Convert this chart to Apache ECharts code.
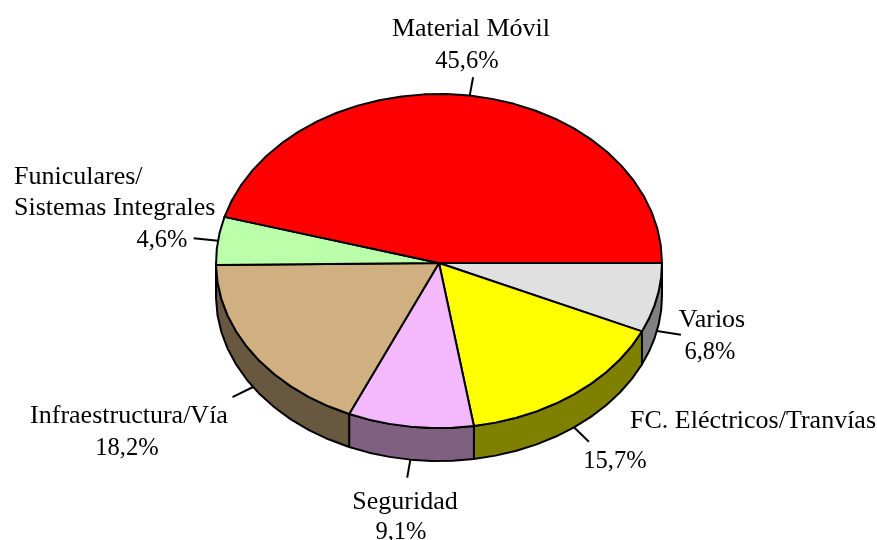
<!DOCTYPE html>
<html>
<head>
<meta charset="utf-8">
<style>html,body{margin:0;padding:0;background:#fff}#c{width:877px;height:540px}</style>
<script src="https://cdn.jsdelivr.net/npm/echarts@6/dist/echarts.min.js"></script>
</head>
<body>
<div id="c"></div>
<script>
// Data, clockwise from 3 o'clock
const categories = ['Varios', 'FC. Eléctricos/Tranvías', 'Seguridad', 'Infraestructura/Vía', 'Funiculares/\nSistemas Integrales', 'Material Móvil'];
const values = [6.8, 15.7, 9.1, 18.2, 4.6, 45.6];
const topColors = ['#E0E0E0', '#FFFF00', '#F4B8FC', '#D0B080', '#BBFFAA', '#FF0000'];
const sideColors = ['#808080', '#808000', '#806080', '#685840', '#5D8055', '#800000'];

// Layout of the tilted disc
const cx = 439, cy = 263, rx = 223, ryTop = 169, ryBottom = 165, depth = 33, step = 6, leader = 1.11;
// Text anchors: [name x, name centre y, value centre x, value centre y, name alignment]
const textPlaces = [
  [712, 320, 710, 353, 'center'],
  [753, 421, 615, 462, 'center'],
  [405, 502, 401, 533, 'center'],
  [129, 416, 127, 449, 'center'],
  [14, 192.5, 162, 241, 'left'],
  [471, 29, 467, 62, 'center']
];

const total = values.reduce((a, b) => a + b, 0);
const chart = echarts.init(document.getElementById('c'), null, {renderer: 'canvas'});
const toAngle = v => echarts.number.linearMap(v, [0, total], [0, 360]);
const spans = [];
values.reduce((acc, v) => { spans.push([toAngle(acc), toAngle(acc + v)]); return acc + v; }, 0);
const pt = (deg, k = 1, dz = 0) => {
  const r = deg * Math.PI / 180;
  const s = Math.sin(r);
  return [cx + rx * k * Math.cos(r), cy + (s > 0 ? ryBottom : ryTop) * k * s + dz];
};
const arc = (a, b, dz = 0) => {
  const out = [];
  const n = Math.max(1, Math.ceil((b - a) / step));
  for (let i = 0; i <= n; i++) out.push(pt(a + (b - a) * i / n, 1, dz));
  return out;
};
const seriesData = categories.map((name, i) => ({name, value: [values[i], i]}));
const lineStyle = {stroke: '#000', lineWidth: 2, lineJoin: 'round'};

const option = {
  animation: false,
  backgroundColor: '#fff',
  series: [
    {
      type: 'custom', coordinateSystem: 'none', silent: true, z: 1, data: seriesData,
      renderItem(p, api) {
        const i = api.value(1);
        const a = spans[i][0], b = Math.min(spans[i][1], 180);
        if (a >= 180) return {type: 'group', children: []};
        const points = arc(a, b).concat(arc(a, b, depth).reverse());
        return {type: 'polygon', shape: {points}, style: Object.assign({fill: sideColors[i]}, lineStyle)};
      }
    },
    {
      type: 'custom', coordinateSystem: 'none', silent: true, z: 2, data: seriesData,
      renderItem(p, api) {
        const i = api.value(1);
        const points = [[cx, cy]].concat(arc(spans[i][0], spans[i][1]));
        return {type: 'polygon', shape: {points}, style: Object.assign({fill: topColors[i]}, lineStyle)};
      }
    },
    {
      type: 'custom', coordinateSystem: 'none', silent: true, z: 3, data: seriesData,
      renderItem(p, api) {
        const i = api.value(1);
        const mid = (spans[i][0] + spans[i][1]) / 2;
        const dz = mid < 180 ? depth : 0;
        const from = pt(mid, 1, dz), to = pt(mid, leader, dz);
        const fontName = '26px "Liberation Serif", "Times New Roman", serif';
        const fontValue = '24.5px "Liberation Serif", "Times New Roman", serif';
        const t = textPlaces[i];
        const nameLines = categories[i].split('\n');
        const children = [{
          type: 'line',
          shape: {x1: from[0], y1: from[1], x2: to[0], y2: to[1]},
          style: {stroke: '#000', lineWidth: 2}
        }];
        nameLines.forEach((line, j) => {
          const off = (j - (nameLines.length - 1) / 2) * 31;
          children.push({
            type: 'text',
            style: {text: line, x: t[0], y: t[1] + off, font: fontName, fill: '#000', align: t[4], verticalAlign: 'middle'}
          });
        });
        children.push({
          type: 'text',
          style: {text: api.value(0).toFixed(1).replace('.', ',') + '%', x: t[2], y: t[3], font: fontValue, fill: '#000', align: 'center', verticalAlign: 'middle'}
        });
        return {type: 'group', children};
      }
    }
  ]
};
chart.setOption(option);
</script>
</body>
</html>
